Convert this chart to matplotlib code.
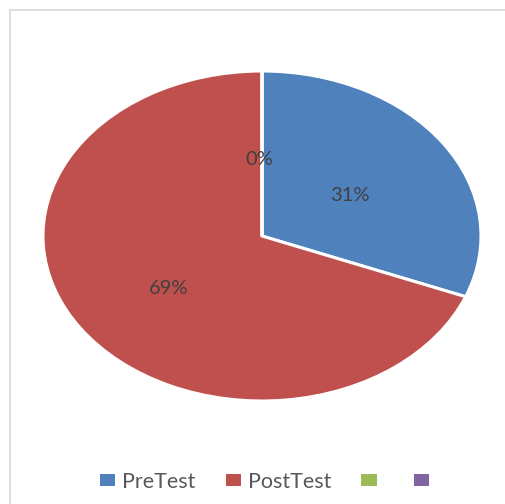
import matplotlib
matplotlib.use("Agg")
import matplotlib.pyplot as plt
from matplotlib.patches import Rectangle, Patch

categories = ["PreTest", "PostTest", "", ""]
values = [31, 69, 0, 0]
colors = ["#4F81BD", "#C0504D", "#9BBB59", "#8064A2"]

W, H = 505, 504
fig = plt.figure(figsize=(W / 100, H / 100), dpi=100)
fig.patch.set_facecolor("white")

# chart border
fig.add_artist(Rectangle((9.5 / W, -0.1), 1.2, 1.1 - 10.5 / H,
                         transform=fig.transFigure, fill=False,
                         edgecolor="#D9D9D9", linewidth=1.2))

cx, cy, rx, ry = 262, 236, 219, 165
ax = fig.add_axes([(cx - rx) / W, (H - cy - ry) / H, 2 * rx / W, 2 * ry / H])
wedges, texts, autotexts = ax.pie(
    values, colors=colors, startangle=90, counterclock=False,
    autopct=lambda p: f"{p:.0f}%", pctdistance=0.5,
    wedgeprops=dict(edgecolor="white", linewidth=2.2),
    textprops=dict(color="#404040", fontsize=14.5, family="Lato"),
)
ax.set_aspect("auto")
ax.set_xlim(-1, 1)
ax.set_ylim(-1, 1)
ax.axis("off")

# nudge labels to match Excel placement
for t in autotexts:
    x, y = t.get_position()
    t.set_position((x - 3 / rx, y - 6 / ry))
# overlapping zero labels: show only one
autotexts[3].set_visible(False)

handles = [Patch(facecolor=c, edgecolor="none") for c in colors]
fig.legend(handles, categories, loc="center", bbox_to_anchor=(268 / W, 1 - 482 / H),
           ncol=4, frameon=False, prop=dict(family="Lato", size=15.5),
           labelcolor="#595959", handlelength=0.7, handleheight=0.47,
           handletextpad=0.33, columnspacing=1.4)

fig.savefig("out.png", dpi=100, facecolor="white")
